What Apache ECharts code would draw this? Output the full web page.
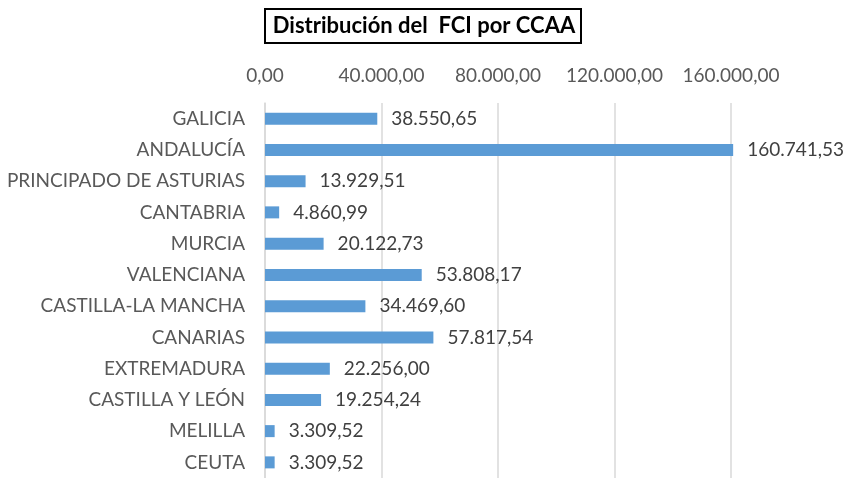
<!DOCTYPE html>
<html>
<head>
<meta charset="utf-8">
<script src="https://cdn.jsdelivr.net/npm/echarts@6/dist/echarts.min.js"></script>
<style>html,body{margin:0;padding:0;background:#fff}#c{width:848px;height:478px}</style>
</head>
<body>
<div id="c"></div>
<script>
var categories = ["GALICIA","ANDALUCÍA","PRINCIPADO DE ASTURIAS","CANTABRIA","MURCIA","VALENCIANA","CASTILLA-LA MANCHA","CANARIAS","EXTREMADURA","CASTILLA Y LEÓN","MELILLA","CEUTA"];
var values = [38550.65,160741.53,13929.51,4860.99,20122.73,53808.17,34469.60,57817.54,22256.00,19254.24,3309.52,3309.52];
var tickValues = [0,40000,80000,120000,160000];
var titleText = "Distribución del  FCI por CCAA";

function fmt(v){
  var s = Number(v).toFixed(2).split('.');
  var ip = s[0].replace(/\B(?=(\d{3})+(?!\d))/g,'.');
  return ip + ',' + s[1];
}
var interval = tickValues[1]-tickValues[0];
var axisMax = tickValues[tickValues.length-1] + interval/2;

var chart = echarts.init(document.getElementById('c'));
chart.setOption({
  animation:false,
  backgroundColor:'#fff',
  textStyle:{fontFamily:'Lato'},
  title:{
    text:titleText, left:'center', top:9,
    padding:[6,6,6,8], borderColor:'#000', borderWidth:2,
    textStyle:{fontFamily:'Lato', fontWeight:'bold', fontSize:22, color:'#000'}
  },
  grid:{left:265, top:103, width:466*axisMax/160000, height:380},
  xAxis:{
    type:'value', position:'top', min:0, max:axisMax, interval:interval,
    axisLine:{show:false}, axisTick:{show:false},
    axisLabel:{formatter:function(v){return fmt(v);}, color:'#595959', fontSize:19, margin:18, showMaxLabel:false},
    splitLine:{lineStyle:{color:['#d9d9d9','#d9d9d9','#d9d9d9','#d9d9d9','#d9d9d9','rgba(0,0,0,0)'], width:1.5}}
  },
  yAxis:{
    type:'category', inverse:true, data:categories,
    axisLine:{lineStyle:{color:'#d9d9d9', width:1.5}}, axisTick:{show:false},
    axisLabel:{color:'#595959', fontSize:19, margin:20}
  },
  series:[{
    type:'bar', data:values, barWidth:12,
    itemStyle:{color:'#5b9bd5'},
    label:{show:true, position:'right', distance:14, color:'#404040', fontSize:19,
      formatter:function(p){return fmt(p.value);}}
  }]
});
</script>
</body>
</html>
